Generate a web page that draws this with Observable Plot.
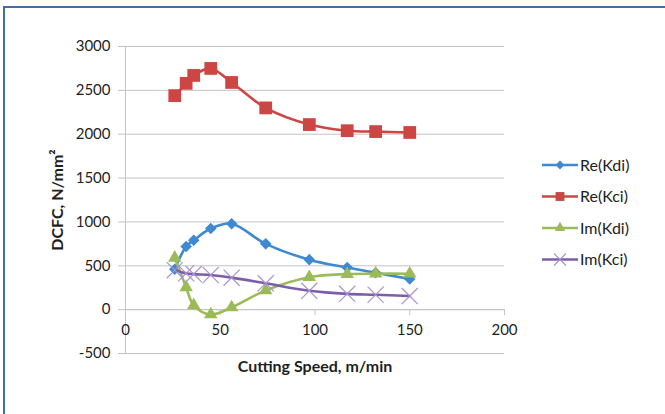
<!DOCTYPE html>
<html>
<head>
<meta charset="utf-8">
<script src="https://cdn.jsdelivr.net/npm/d3@7"></script>
<script src="https://cdn.jsdelivr.net/npm/@observablehq/plot@0.6"></script>
<style>
  html, body { margin: 0; padding: 0; background: #fff; overflow: hidden; }
  body { width: 665px; height: 414px; position: relative; font-family: Lato, "Open Sans", sans-serif; }
  #chart { position: absolute; left: 0; top: 0; }
  #frame { position: absolute; left: 3px; top: 6px; width: 720px; height: 460px;
           border-left: 2px solid #3f6ea8; border-top: 2px solid #3f6ea8; pointer-events: none; }
  #legend { position: absolute; left: 538px; top: 152px; }
</style>
</head>
<body>
<div id="chart"></div>
<div id="frame"></div>
<div id="legend"></div>
<script>
// Cutting speed (m/min) at which the coefficients were identified
const speeds = [26, 32, 36, 45, 56, 74, 97, 117, 132, 150];

// Dynamic cutting force coefficients, N/mm²
const reKdi = [460, 720, 790, 925, 980, 750, 570, 480, 420, 350];
const reKci = [2440, 2580, 2670, 2750, 2590, 2300, 2110, 2040, 2030, 2020];
const imKdi = [590, 255, 50, -55, 25, 220, 370, 405, 410, 410];
const imKci = [450, 415, 405, 395, 365, 300, 215, 180, 170, 155];

const seriesNames = ["Re(Kdi)", "Re(Kci)", "Im(Kdi)", "Im(Kci)"];
const seriesValues = [reKdi, reKci, imKdi, imKci];
const lineColors = ["#3f89d2", "#cc4744", "#9bbb59", "#7d5ea6"];
const markerColors = ["#3f89d2", "#cc4744", "#9bbb59", "#a893d2"];
const symbols = ["diamond2", "square", "triangle", "times"];
const markerR = [5.2, 7.2, 5, 7.4];

const xTicks = [0, 50, 100, 150, 200];
const yTicks = [-500, 0, 500, 1000, 1500, 2000, 2500, 3000];
const xTitle = "Cutting Speed, m/min";
const yTitle = "DCFC, N/mm²";

const rows = seriesNames.flatMap((name, i) =>
  speeds.map((s, j) => ({series: name, speed: s, value: seriesValues[i][j], i})));

const W = 665, H = 414;
const mL = 125, mR = 161, mT = 46, mB = 61;
const yMin = -500, yMax = 3000;
const plotH = H - mT - mB;
// vertical distance from the bottom of the frame up to the zero line
const zeroShift = (0 - yMin) / (yMax - yMin) * plotH;

const gridColor = "#c3c3c3";
const textColor = "#1e1e1e";
const font = "Lato, 'Open Sans', sans-serif";
const plain = d => String(d);

const marks = [
  Plot.gridY(yTicks, {stroke: gridColor, strokeOpacity: 1}),
  Plot.ruleX([0], {stroke: gridColor}),
  Plot.ruleY([0], {stroke: gridColor}),
  Plot.axisY(yTicks, {tickSize: 7, tickPadding: 8, stroke: gridColor, strokeOpacity: 1,
                      fill: textColor, fontSize: 15, label: null, tickFormat: plain}),
  Plot.axisX(xTicks, {anchor: "bottom", dy: -zeroShift, tickSize: 6, tickPadding: 9,
                      stroke: gridColor, strokeOpacity: 1, fill: textColor, fontSize: 15,
                      label: null, tickFormat: plain}),
  Plot.text([xTitle], {frameAnchor: "bottom", lineAnchor: "middle", dy: 13,
                       fontWeight: "bold", fontSize: 16, fill: textColor}),
  Plot.text([yTitle], {frameAnchor: "left", textAnchor: "middle", lineAnchor: "middle", rotate: -90, dx: -68,
                       fontWeight: "bold", fontSize: 16, fill: textColor})
];

seriesNames.forEach((name, i) => {
  const d = rows.filter(r => r.series === name);
  marks.push(Plot.line(d, {x: "speed", y: "value", stroke: lineColors[i], strokeWidth: 2.6, curve: "catmull-rom"}));
  const dotOpts = {x: "speed", y: "value", symbol: () => symbols[i], r: markerR[i]};
  if (symbols[i] === "times") Object.assign(dotOpts, {stroke: markerColors[i], strokeWidth: 1.2, fill: "none"});
  else Object.assign(dotOpts, {fill: markerColors[i], stroke: "none"});
  marks.push(Plot.dot(d, dotOpts));
});

const chart = Plot.plot({
  width: W, height: H,
  marginLeft: mL, marginRight: mR, marginTop: mT, marginBottom: mB,
  style: {fontFamily: font, fontSize: "15px", background: "transparent", overflow: "visible"},
  x: {domain: [0, 200]},
  y: {domain: [yMin, yMax]},
  symbol: {type: "identity"},
  marks
});
document.getElementById("chart").appendChild(chart);

// Legend: line swatch with marker, followed by the series name
const lg = d3.select("#legend").append("svg").attr("width", 127).attr("height", 130)
  .style("font-family", font).style("font-size", "16px");
const symbolMap = {diamond2: d3.symbolDiamond2, square: d3.symbolSquare, triangle: d3.symbolTriangle, times: d3.symbolTimes};
const legendR = [4, 5, 4, 5.5];
seriesNames.forEach((name, i) => {
  const g = lg.append("g").attr("transform", `translate(0,${13 + i * 31.5})`);
  g.append("line").attr("x1", 4).attr("x2", 40).attr("y1", 0).attr("y2", 0)
    .attr("stroke", lineColors[i]).attr("stroke-width", 2.6);
  const p = g.append("path").attr("transform", "translate(22,0)")
    .attr("d", d3.symbol(symbolMap[symbols[i]], Math.PI * legendR[i] * legendR[i])());
  if (symbols[i] === "times") p.attr("fill", "none").attr("stroke", markerColors[i]).attr("stroke-width", 1.2);
  else p.attr("fill", markerColors[i]);
  g.append("text").attr("x", 42).attr("y", 0).attr("dy", "0.35em").attr("fill", textColor).text(name);
});
</script>
</body>
</html>
